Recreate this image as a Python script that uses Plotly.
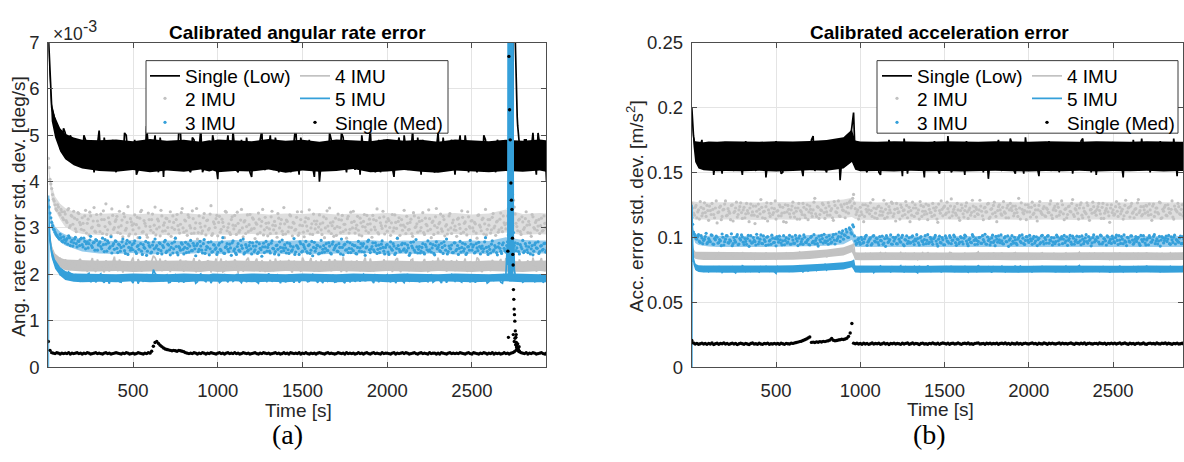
import numpy as np
import plotly.graph_objects as go

W, H = 1184, 462
STEP_LINE = 20   # s between samples of each line list (A at 0,20,..; B at 10,30,..)
STEP_DOT = 10    # s between samples of each dot list (A at 0,10,..; B at 5,15,..)

# ---------------- Left panel: angular rate error (units of 1e-5 deg/s) ----------------
L_LOW_A = [
    720, 560, 530, 510, 490, 505, 470, 485, 450, 480,
    440, 490, 430, 470, 445, 510, 425, 470, 440, 490,
    420, 475, 440, 500, 430, 465, 415, 480, 450, 520,
    430, 470, 445, 495, 410, 460, 440, 485, 425, 505,
    440, 470, 420, 490, 450, 515, 430, 465, 440, 480,
    405, 470, 445, 500, 430, 475, 420, 490, 450, 465,
    410, 485, 440, 510, 425, 470, 445, 495, 420, 460,
    435, 480, 450, 520, 415, 470, 440, 490, 430, 465,
    400, 480, 445, 505, 425, 470, 440, 495, 420, 475,
    450, 485, 415, 465, 440, 510, 430, 470, 420, 490,
    445, 475, 410, 480, 450, 500, 425, 465, 440, 495,
    415, 470, 445, 485, 420, 505, 440, 460, 430, 490,
    415, 470, 445, 500, 420, 480, 440, 475, 425, 490,
    430, 465, 420, 480, 445, 470, 425, 480, 620, 480,
    425, 490, 440, 505, 415, 480, 450, 400,
]
L_LOW_B = [
    620, 545, 520, 470, 515, 480, 500, 445, 490, 460,
    500, 455, 485, 420, 480, 450, 495, 430, 470, 445,
    480, 430, 505, 455, 440, 490, 425, 470, 435, 480,
    455, 500, 420, 470, 485, 430, 475, 445, 510, 440,
    465, 425, 495, 440, 470, 420, 485, 450, 500, 435,
    485, 430, 470, 455, 510, 425, 460, 440, 495, 420,
    470, 445, 490, 430, 465, 500, 425, 475, 440, 485,
    460, 420, 480, 445, 495, 430, 470, 455, 410, 485,
    445, 470, 425, 490, 455, 430, 505, 440, 470, 450,
    425, 470, 500, 435, 480, 450, 420, 490, 455, 440,
    480, 430, 465, 495, 425, 470, 445, 510, 430, 460,
    490, 440, 475, 425, 470, 450, 495, 430, 480, 445,
    460, 500, 430, 470, 445, 485, 420, 465, 500, 435,
    475, 440, 490, 430, 470, 455, 480, 950, 520, 460,
    490, 435, 470, 450, 505, 425, 480,
]
L_LOW_SPIKE_T = [2746, 2752, 2756, 2763, 2767, 2774]
L_LOW_SPIKE_V = [900, 860, 700, 580, 540, 500]

L_IMU2_A = [
    450, 405, 385, 362, 350, 338, 345, 328, 335, 318,
    330, 312, 342, 305, 325, 336, 298, 318, 331, 307,
    322, 295, 338, 310, 285, 326, 302, 344, 291, 315,
    305, 330, 288, 318, 352, 296, 312, 284, 327, 301,
    318, 290, 336, 305, 281, 324, 299, 346, 287, 313,
    296, 328, 307, 279, 321, 338, 292, 310, 285, 332,
    303, 318, 290, 345, 298, 315, 283, 326, 306, 294,
    320, 287, 335, 301, 312, 278, 329, 296, 308, 342,
    291, 315, 284, 323, 300, 337, 289, 311, 276, 326,
    302, 294, 331, 285, 317, 299, 348, 288, 309, 320,
    283, 325, 297, 312, 279, 334, 301, 290, 318, 306,
    327, 286, 310, 295, 340, 281, 316, 303, 292, 329,
    298, 319, 277, 308, 332, 290, 314, 285, 323, 301,
    311, 288, 336, 296, 305, 280, 321, 309, 293, 344,
    287, 314, 302, 326, 283, 310, 297, 335, 289, 318,
    305, 281, 322, 294, 339, 300, 286, 315, 308, 291,
    328, 296, 311, 279, 320, 304, 343, 288, 313, 299,
    284, 330, 301, 317, 292, 308, 278, 325, 297, 312,
    336, 289, 306, 295, 321, 283, 314, 302, 327, 290,
    309, 280, 318, 296, 341, 287, 311, 299, 324, 304,
    293, 316, 284, 329, 300, 312, 277, 322, 306, 295,
    338, 288, 310, 297, 319, 282, 326, 303, 291, 314,
    301, 333, 286, 308, 294, 320, 279, 315, 305, 342,
    290, 312, 298, 325, 283, 307, 296, 331, 288, 317,
    304, 282, 321, 299, 337, 291, 313, 285, 324, 300,
    316, 293, 309, 278, 328, 302, 318, 287, 340, 297,
    306, 289, 323, 300, 284, 315, 296, 332, 292, 311,
    298, 326, 360, 385, 372, 345, 310, 294, 319, 286,
    313, 301, 335, 290, 307, 282, 324, 298, 316, 304,
    288, 321, 295, 310, 299,
]
L_IMU2_B = [
    430, 395, 372, 358, 341, 350, 332, 340, 322, 335,
    316, 339, 301, 327, 308, 321, 292, 333, 312, 297,
    310, 326, 289, 319, 334, 300, 315, 293, 329, 306,
    292, 318, 337, 303, 286, 322, 309, 341, 297, 314,
    325, 302, 288, 317, 331, 295, 312, 283, 320, 306,
    309, 287, 323, 300, 335, 291, 316, 304, 280, 318,
    295, 330, 306, 285, 319, 302, 338, 293, 311, 321,
    301, 314, 282, 326, 297, 318, 305, 289, 333, 300,
    317, 294, 328, 305, 288, 320, 299, 342, 290, 310,
    289, 322, 304, 316, 296, 330, 284, 313, 301, 327,
    312, 291, 319, 303, 336, 294, 309, 286, 324, 298,
    305, 334, 291, 317, 300, 313, 288, 328, 307, 295,
    322, 299, 311, 287, 319, 304, 340, 296, 310, 283,
    298, 324, 306, 314, 289, 331, 300, 318, 286, 309,
    317, 292, 328, 301, 312, 295, 323, 284, 306, 335,
    291, 313, 304, 320, 287, 309, 330, 298, 315, 302,
    309, 286, 324, 300, 337, 293, 311, 305, 282, 321,
    303, 318, 290, 327, 308, 296, 320, 289, 334, 300,
    314, 299, 325, 285, 311, 303, 329, 294, 308, 319,
    296, 327, 302, 316, 290, 322, 305, 336, 287, 313,
    320, 301, 311, 293, 328, 299, 314, 284, 318, 306,
    302, 325, 296, 312, 288, 333, 301, 309, 322, 294,
    316, 290, 321, 305, 339, 297, 312, 286, 324, 301,
    309, 330, 293, 318, 304, 287, 326, 300, 311, 296,
    295, 319, 308, 288, 323, 310, 297, 335, 303, 315,
    300, 312, 289, 327, 306, 294, 321, 309, 285, 318,
    318, 296, 331, 304, 313, 291, 319, 300, 326, 307,
    310, 342, 375, 392, 360, 330, 303, 317, 292, 324,
    297, 320, 306, 314, 289, 329, 301, 312, 295, 318,
    305, 293, 326, 301, 314,
]

L_IMU3_A = [
    360, 332, 312, 298, 291, 284, 279, 286, 272, 281,
    268, 277, 283, 262, 274, 268, 280, 259, 271, 276,
    264, 278, 255, 270, 266, 282, 258, 269, 275, 252,
    267, 260, 278, 249, 265, 272, 256, 281, 262, 254,
    271, 247, 263, 258, 276, 251, 266, 243, 269, 257,
    253, 272, 245, 262, 279, 250, 264, 256, 241, 268,
    259, 248, 270, 276, 262, 254, 266, 244, 258, 273,
    250, 263, 242, 267, 255, 278, 247, 260, 252, 265,
    244, 269, 256, 248, 273, 251, 262, 240, 266, 254,
    261, 246, 275, 253, 258, 242, 270, 249, 263, 257,
    248, 267, 251, 279, 245, 260, 254, 265, 241, 272,
    255, 243, 266, 250, 262, 276, 247, 258, 252, 269,
    244, 261, 253, 270, 248, 256, 239, 267, 259, 250,
    264, 246, 272, 255, 249, 263, 242, 258, 274, 251,
    257, 268, 245, 261, 253, 277, 248, 260, 243, 266,
    250, 259, 271, 246, 264, 252, 240, 269, 256, 262,
    245, 273, 254, 248, 266, 251, 261, 244, 270, 257,
    263, 249, 258, 276, 242, 265, 253, 247, 268, 255,
    251, 262, 244, 271, 257, 249, 266, 241, 259, 274,
    247, 260, 253, 268, 245, 263, 256, 272, 250, 258,
    264, 243, 270, 252, 261, 246, 278, 254, 249, 267,
    255, 248, 263, 241, 269, 257, 252, 275, 246, 260,
    250, 266, 244, 259, 272, 253, 248, 264, 242, 270,
    258, 251, 267, 245, 262, 276, 249, 256, 263, 247,
    268, 254, 243, 271, 258, 250, 265, 246, 260, 273,
    252, 263, 248, 257, 269, 244, 261, 255, 279, 249,
    260, 246, 272, 253, 258, 242, 267, 250, 264, 256,
    248, 270, 295, 320, 305, 262, 251, 266, 244, 259,
    273, 250, 261, 247, 268, 255, 242, 264, 257, 270,
    249, 262, 254, 267, 251,
]
L_IMU3_B = [
    345, 322, 305, 296, 287, 281, 276, 279, 270, 275,
    273, 265, 279, 270, 261, 276, 266, 272, 262, 278,
    259, 271, 266, 257, 274, 262, 268, 252, 273, 263,
    270, 255, 264, 275, 250, 268, 259, 246, 266, 272,
    256, 265, 250, 270, 261, 245, 273, 258, 252, 264,
    267, 249, 260, 254, 266, 243, 258, 271, 250, 262,
    246, 263, 255, 258, 245, 268, 251, 262, 270, 247,
    265, 253, 258, 246, 270, 260, 242, 257, 268, 254,
    258, 247, 265, 261, 251, 267, 255, 262, 249, 271,
    252, 266, 245, 260, 269, 255, 248, 264, 254, 243,
    263, 254, 270, 246, 258, 266, 249, 257, 268, 251,
    246, 260, 252, 273, 256, 244, 264, 250, 262, 255,
    268, 249, 261, 245, 266, 253, 259, 247, 271, 258,
    250, 267, 256, 244, 262, 254, 270, 249, 257, 264,
    246, 253, 266, 250, 259, 243, 262, 256, 270, 248,
    264, 255, 249, 262, 245, 271, 258, 250, 263, 244,
    259, 247, 262, 256, 251, 268, 246, 265, 253, 261,
    250, 266, 244, 258, 263, 252, 270, 256, 247, 264,
    262, 245, 258, 250, 266, 261, 248, 257, 271, 253,
    255, 268, 249, 262, 254, 247, 265, 258, 244, 263,
    248, 259, 255, 266, 243, 256, 262, 249, 264, 252,
    266, 251, 257, 245, 261, 270, 248, 259, 254, 246,
    258, 247, 264, 253, 250, 266, 257, 245, 262, 255,
    263, 249, 258, 270, 252, 244, 261, 255, 247, 268,
    251, 262, 256, 248, 267, 255, 243, 259, 252, 265,
    259, 246, 266, 251, 260, 256, 249, 270, 258, 243,
    254, 265, 250, 262, 247, 259, 256, 245, 268, 251,
    262, 285, 310, 330, 290, 268, 257, 249, 264, 255,
    247, 266, 253, 259, 244, 262, 250, 268, 256, 245,
    261, 252, 266, 248, 257,
]

L_IMU4_A = [
    300, 255, 238, 228, 222, 232, 215, 226, 212, 230,
    208, 228, 215, 235, 205, 222, 212, 230, 206, 225,
    214, 232, 204, 222, 215, 236, 207, 224, 213, 230,
    216, 240, 228, 234, 212, 226, 205, 222, 214, 232,
    206, 224, 213, 235, 208, 226, 215, 230, 204, 222,
    212, 234, 207, 225, 215, 232, 203, 224, 214, 236,
    208, 226, 212, 230, 205, 222, 216, 234, 209, 225,
    213, 231, 204, 224, 215, 236, 208, 226, 212, 230,
    206, 222, 214, 233, 209, 225, 213, 237, 205, 224,
    215, 230, 207, 226, 212, 234, 206, 223, 214, 232,
    208, 227, 213, 235, 205, 224, 215, 231, 209, 226,
    212, 233, 206, 224, 214, 236, 208, 225, 213, 230,
    207, 226, 215, 234, 209, 223, 212, 232, 205, 225,
    214, 231, 208, 227, 212, 235, 210, 226, 215, 232,
    208, 225, 214, 236, 206, 224, 213, 230,
]
L_IMU4_B = [
    275, 245, 218, 236, 214, 228, 209, 224, 218, 233,
    220, 205, 226, 212, 232, 218, 204, 225, 215, 238,
    207, 222, 217, 211, 228, 213, 233, 206, 221, 216,
    228, 236, 218, 207, 230, 213, 227, 209, 224, 211,
    229, 212, 223, 205, 231, 216, 209, 226, 218, 234,
    221, 205, 228, 214, 210, 226, 217, 206, 231, 213,
    219, 234, 206, 224, 215, 231, 207, 221, 228, 212,
    223, 210, 229, 216, 205, 227, 214, 235, 206, 220,
    231, 211, 226, 208, 232, 217, 205, 224, 216, 229,
    210, 223, 214, 236, 206, 222, 215, 228, 208, 225,
    218, 205, 231, 211, 226, 214, 207, 233, 220, 210,
    225, 216, 208, 229, 213, 220, 232, 206, 224, 217,
    229, 210, 223, 206, 228, 215, 236, 209, 221, 214,
    207, 224, 217, 233, 210, 226, 212, 229, 208, 223,
    216, 230, 209, 222, 214, 235, 207,
]

L_IMU5_A = [
    0, 245, 222, 210, 204, 198, 205, 192, 200, 188,
    196, 185, 202, 190, 183, 198, 186, 194, 180, 197,
    188, 184, 199, 187, 193, 181, 196, 189, 185, 200,
    190, 210, 198, 192, 186, 199, 183, 195, 188, 193,
    182, 198, 189, 195, 184, 201, 187, 192, 181, 197,
    190, 185, 199, 183, 194, 188, 200, 182, 195, 189,
    186, 198, 181, 193, 190, 202, 184, 196, 188, 192,
    183, 199, 189, 194, 182, 197, 190, 185, 200, 187,
    193, 181, 196, 188, 199, 184, 192, 186, 198, 183,
    195, 189, 184, 200, 187, 193, 181, 197, 190, 186,
    199, 183, 194, 188, 196, 182, 201, 189, 185, 197,
    188, 192, 184, 199, 186, 195, 181, 194, 190, 200,
    185, 196, 183, 193, 189, 198, 182, 195, 187, 192,
    184, 199, 188, 194, 181, 197, 186, 193, 189, 196,
    183, 200, 187, 192, 185, 198, 182, 195,
]
L_IMU5_B = [
    275, 232, 215, 200, 207, 194, 202, 187, 195, 184,
    191, 199, 183, 194, 188, 201, 182, 190, 196, 186,
    197, 183, 191, 199, 186, 195, 180, 192, 188, 196,
    185, 202, 191, 187, 197, 182, 193, 199, 184, 190,
    196, 185, 192, 181, 198, 190, 184, 196, 188, 193,
    182, 197, 188, 193, 185, 199, 186, 191, 183, 198,
    191, 184, 197, 187, 183, 194, 189, 199, 181, 195,
    189, 194, 182, 198, 187, 191, 184, 197, 190, 182,
    187, 198, 185, 191, 183, 196, 189, 181, 194, 190,
    184, 193, 197, 186, 192, 188, 199, 183, 191, 196,
    188, 195, 181, 197, 186, 192, 184, 198, 190, 183,
    194, 186, 198, 183, 191, 187, 196, 182, 197, 189,
    192, 185, 199, 188, 183, 194, 190, 186, 198, 181,
    191, 187, 196, 183, 199, 900, 185, 210, 195, 188,
    186, 193, 199, 184, 190, 197, 187,
]
L_IMU5_EXTRA_T = [1, 5,
                  2708, 2712, 2714, 2716, 2718, 2722, 2724, 2726, 2728,
                  2732, 2734, 2736, 2738, 2742, 2744, 2746, 2748]
L_IMU5_EXTRA_V = [370, 310,
                  260, 220, 900, 195, 900, 900, 185, 900, 210,
                  900, 200, 900, 190, 900, 230, 900, 260]

L_MED = [
    55, 36, 31, 30, 29, 31, 30, 28, 30, 29,
    30, 29, 31, 28, 30, 29, 30, 31, 29, 30,
    28, 30, 29, 31, 30, 28, 29, 30, 31, 29,
    30, 29, 28, 30, 31, 29, 30, 28, 29, 30,
    31, 30, 29, 28, 30, 29, 31, 30, 28, 29,
    30, 28, 29, 31, 30, 29, 28, 30, 29, 31,
    30, 34, 45, 53, 55, 51, 47, 44, 41, 39,
    38, 37, 36, 35, 36, 35, 34, 36, 35, 34,
    33, 31, 30, 29, 30, 29, 31, 30, 28, 30,
    29, 31, 30, 28, 30, 29, 31, 30, 29, 28,
    30, 31, 29, 30, 28, 30, 31, 29, 30, 29,
    31, 29, 30, 28, 29, 31, 30, 29, 30, 28,
    29, 30, 31, 29, 28, 30, 29, 31, 30, 29,
    30, 28, 29, 30, 31, 29, 30, 28, 29, 31,
    29, 30, 28, 31, 30, 29, 30, 29, 31, 28,
    30, 29, 31, 29, 28, 30, 29, 30, 28, 30,
    31, 30, 29, 28, 30, 31, 29, 30, 29, 28,
    29, 31, 30, 29, 30, 28, 31, 29, 30, 29,
    30, 28, 29, 31, 29, 30, 28, 30, 31, 29,
    28, 30, 31, 29, 30, 29, 28, 31, 29, 30,
    30, 29, 28, 30, 31, 28, 30, 29, 30, 31,
    29, 31, 30, 28, 29, 30, 31, 29, 28, 30,
    31, 29, 30, 29, 28, 31, 29, 30, 30, 28,
    30, 28, 31, 30, 29, 28, 30, 31, 29, 30,
    29, 30, 29, 31, 30, 29, 28, 30, 31, 29,
    28, 31, 30, 29, 28, 30, 29, 31, 30, 28,
    30, 29, 31, 28, 30, 29, 30, 28, 29, 31,
    29, 30, 28, 30, 31, 33, 36, 40, 34, 31,
    30, 29, 31, 28, 30, 29, 31, 30, 28, 29,
    30, 31, 29, 28, 30,
]
L_MED_EXTRA_T = [2712, 2715, 2718, 2722, 2726, 2730, 2733, 2736, 2739, 2741,
                 2743, 2744, 2745, 2747, 2749, 2750, 2751, 2753, 2754, 2756,
                 2758, 2759, 2761, 2762, 2764, 2765, 2768, 2770, 2772, 2774,
                 2776, 2778, 2780]
L_MED_EXTRA_V = [250, 64, 670, 555, 490, 397, 360, 340, 278, 243,
                 220, 70, 167, 146, 125, 55, 113, 99, 62, 78,
                 48, 64, 70, 53, 42, 45, 40, 50, 36, 38,
                 34, 44, 33]

# ---------------- Right panel: acceleration error (units of 1e-4 m/s^2) ----------------
R_LOW_A = [
    2000, 1690, 1560, 1750, 1620, 1520, 1710, 1580, 1660, 1490,
    1720, 1600, 1540, 1690, 1630, 1480, 1740, 1570, 1650, 1510,
    1700, 1600, 1460, 1680, 1550, 1740, 1620, 1500, 1660, 1580,
    1720, 1520, 1640, 1470, 1690, 1590, 1780, 1540, 1650, 1610,
    1500, 1700, 1580, 1660, 1440, 1720, 1610, 1750, 1960, 1680,
    1560, 1690, 1500, 1640, 1590, 1730, 1480, 1660, 1570, 1700,
    1520, 1650, 1610, 1760, 1490, 1680, 1550, 1710, 1600, 1460,
    1690, 1580, 1740, 1520, 1640, 1600, 1780, 1500, 1670, 1560,
    1710, 1480, 1650, 1590, 1730, 1540, 1680, 1620, 1450, 1700,
    1570, 1750, 1510, 1660, 1600, 1720, 1490, 1640, 1580, 1770,
    1530, 1680, 1610, 1470, 1700, 1560, 1740, 1590, 1650, 1500,
    1720, 1580, 1640, 1490, 1690, 1610, 1760, 1540, 1660, 1590,
    1480, 1710, 1570, 1650, 1520, 1730, 1600, 1680, 1460, 1700,
    1590, 1750, 1530, 1640, 1610, 1720, 1500, 1670, 1580, 1740,
    1540, 1690, 1600, 1760, 1470, 1650, 1580, 1710,
]
R_LOW_B = [
    1780, 1610, 1700, 1540, 1650, 1590, 1480, 1690, 1560, 1730,
    1570, 1680, 1510, 1720, 1580, 1660, 1530, 1700, 1600, 1640,
    1550, 1730, 1590, 1520, 1670, 1600, 1490, 1710, 1560, 1650,
    1600, 1700, 1540, 1660, 1580, 1750, 1510, 1680, 1590, 1530,
    1690, 1560, 1640, 1750, 1600, 1680, 1790, 1850, 1600, 1560,
    1640, 1530, 1720, 1580, 1660, 1500, 1690, 1610, 1750, 1540,
    1680, 1570, 1470, 1650, 1600, 1730, 1520, 1640, 1580, 1700,
    1550, 1660, 1600, 1490, 1720, 1570, 1640, 1530, 1700, 1610,
    1590, 1740, 1520, 1660, 1570, 1690, 1500, 1650, 1600, 1560,
    1700, 1540, 1630, 1580, 1760, 1520, 1670, 1600, 1490, 1650,
    1610, 1720, 1550, 1650, 1580, 1690, 1510, 1640, 1720, 1570,
    1650, 1530, 1700, 1600, 1560, 1740, 1580, 1670, 1500, 1690,
    1620, 1560, 1680, 1590, 1720, 1540, 1650, 1570, 1700, 1610,
    1530, 1660, 1600, 1760, 1550, 1640, 1590, 1700, 1520, 1650,
    1610, 1720, 1540, 1630, 1690, 1560, 1680,
]

R_IMU2_A = [
    1260, 1185, 1230, 1150, 1210, 1275, 1165, 1220, 1190, 1245,
    1130, 1205, 1260, 1175, 1225, 1110, 1195, 1240, 1160, 1215,
    1280, 1170, 1200, 1135, 1250, 1190, 1225, 1155, 1210, 1265,
    1145, 1230, 1180, 1205, 1120, 1255, 1195, 1170, 1240, 1160,
    1215, 1290, 1150, 1200, 1235, 1125, 1185, 1260, 1175, 1220,
    1140, 1205, 1250, 1165, 1230, 1190, 1115, 1245, 1180, 1210,
    1270, 1155, 1200, 1225, 1140, 1195, 1260, 1170, 1215, 1135,
    1240, 1185, 1210, 1300, 1160, 1230, 1175, 1205, 1250, 1145,
    1195, 1265, 1170, 1220, 1130, 1245, 1190, 1280, 1160, 1235,
    1205, 1150, 1260, 1185, 1280, 1240, 1330, 1220, 1195, 1140,
    1230, 1175, 1120, 1250, 1195, 1210, 1265, 1160, 1225, 1185,
    1145, 1240, 1200, 1170, 1285, 1215, 1155, 1235, 1190, 1260,
    1180, 1125, 1220, 1195, 1250, 1165, 1210, 1275, 1150, 1230,
    1205, 1270, 1160, 1225, 1185, 1140, 1245, 1200, 1175, 1255,
    1135, 1215, 1190, 1260, 1170, 1230, 1115, 1205, 1280, 1165,
    1240, 1185, 1220, 1150, 1295, 1195, 1235, 1170, 1210, 1130,
    1250, 1180, 1205, 1265, 1145, 1225, 1190, 1240, 1160, 1215,
    1175, 1285, 1200, 1135, 1230, 1195, 1260, 1155, 1220, 1245,
    1190, 1120, 1235, 1210, 1170, 1275, 1185, 1225, 1150, 1260,
    1205, 1165, 1240, 1190, 1300, 1140, 1215, 1180, 1250, 1195,
    1230, 1155, 1270, 1185, 1210, 1125, 1245, 1200, 1175, 1235,
    1160, 1215, 1190, 1280, 1145, 1225, 1205, 1255, 1170, 1195,
    1250, 1135, 1220, 1175, 1240, 1195, 1290, 1160, 1210, 1185,
    1225, 1265, 1150, 1200, 1180, 1245, 1130, 1215, 1270, 1190,
    1170, 1235, 1205, 1145, 1260, 1185, 1220, 1195, 1115, 1250,
    1210, 1180, 1275, 1160, 1230, 1200, 1140, 1245, 1190, 1225,
    1155, 1260, 1195, 1215, 1175, 1290, 1205, 1165, 1235, 1185,
    1240, 1170, 1210, 1130, 1255, 1195, 1225, 1180, 1265, 1150,
    1200, 1245, 1165, 1220, 1185, 1280, 1140, 1215, 1195, 1235,
    1175, 1250, 1190, 1225, 1160,
]
R_IMU2_B = [
    1225, 1170, 1245, 1195, 1140, 1230, 1185, 1265, 1160, 1205,
    1240, 1175, 1215, 1150, 1280, 1190, 1230, 1135, 1210, 1255,
    1165, 1220, 1185, 1245, 1125, 1200, 1270, 1175, 1235, 1190,
    1210, 1150, 1260, 1185, 1225, 1170, 1240, 1105, 1200, 1255,
    1180, 1230, 1195, 1145, 1265, 1210, 1160, 1225, 1190, 1280,
    1200, 1165, 1235, 1185, 1120, 1250, 1195, 1215, 1155, 1240,
    1185, 1225, 1140, 1260, 1205, 1175, 1230, 1150, 1250, 1195,
    1215, 1160, 1270, 1180, 1235, 1145, 1210, 1260, 1190, 1225,
    1170, 1240, 1205, 1150, 1275, 1195, 1225, 1165, 1250, 1210,
    1255, 1195, 1230, 1270, 1225, 1300, 1260, 1175, 1210, 1165,
    1195, 1250, 1160, 1215, 1240, 1180, 1205, 1290, 1150, 1220,
    1235, 1170, 1225, 1195, 1145, 1255, 1185, 1210, 1270, 1160,
    1215, 1260, 1190, 1140, 1230, 1205, 1175, 1245, 1195, 1120,
    1170, 1225, 1250, 1185, 1210, 1275, 1160, 1235, 1200, 1180,
    1245, 1190, 1160, 1225, 1205, 1140, 1255, 1185, 1215, 1230,
    1175, 1270, 1195, 1240, 1165, 1215, 1185, 1260, 1150, 1205,
    1225, 1155, 1240, 1195, 1210, 1170, 1285, 1200, 1230, 1180,
    1210, 1240, 1165, 1225, 1195, 1255, 1145, 1215, 1180, 1270,
    1160, 1205, 1250, 1180, 1230, 1195, 1150, 1245, 1210, 1225,
    1240, 1185, 1215, 1160, 1225, 1265, 1190, 1205, 1135, 1250,
    1195, 1230, 1175, 1245, 1155, 1210, 1275, 1185, 1220, 1165,
    1225, 1190, 1255, 1170, 1210, 1240, 1160, 1230, 1195, 1280,
    1180, 1215, 1150, 1235, 1200, 1260, 1175, 1220, 1245, 1140,
    1250, 1170, 1225, 1190, 1265, 1155, 1210, 1185, 1235, 1200,
    1215, 1260, 1180, 1230, 1145, 1205, 1250, 1165, 1225, 1190,
    1170, 1235, 1200, 1255, 1180, 1215, 1165, 1285, 1195, 1230,
    1240, 1185, 1150, 1220, 1265, 1190, 1235, 1175, 1210, 1245,
    1195, 1255, 1175, 1240, 1160, 1225, 1190, 1270, 1145, 1215,
    1230, 1170, 1250, 1190, 1215, 1155, 1240, 1205, 1260, 1180,
    1215, 1165, 1235, 1195, 1250,
]

R_IMU3_A = [
    1150, 1040, 1010, 985, 1020, 960, 995, 975, 1005, 950,
    990, 965, 1015, 945, 980, 1000, 958, 972, 1025, 940,
    985, 1010, 955, 970, 935, 998, 962, 1020, 948, 978,
    1002, 944, 968, 990, 930, 1012, 958, 975, 940, 995,
    965, 1018, 950, 982, 938, 1005, 970, 945, 992, 960,
    934, 985, 1008, 955, 972, 942, 996, 962, 1015, 948,
    978, 952, 990, 936, 1010, 966, 945, 1000, 958, 984,
    940, 1006, 968, 950, 992, 932, 980, 1014, 955, 972,
    1000, 946, 985, 962, 1020, 948, 975, 1005, 968, 1030,
    985, 1015, 1040, 998, 1060, 1025, 1080, 970, 955, 990,
    945, 982, 960, 1005, 938, 972, 995, 950, 1012, 964,
    988, 942, 975, 1008, 955, 930, 992, 968, 1018, 946,
    970, 1000, 948, 985, 962, 1015, 935, 978, 952, 996,
    958, 1010, 944, 972, 990, 940, 1005, 965, 982, 950,
    1020, 960, 985, 945, 998, 970, 932, 1008, 955, 980,
    942, 992, 966, 1012, 950, 978, 1002, 938, 984, 962,
    996, 948, 1016, 970, 935, 990, 958, 1006, 944, 975,
    968, 1000, 952, 982, 1022, 946, 974, 940, 995, 960,
    935, 985, 1010, 958, 972, 948, 1004, 965, 930, 990,
    1012, 955, 980, 942, 998, 968, 1018, 950, 975, 1002,
    960, 988, 945, 1006, 970, 936, 992, 958, 1015, 948,
    982, 1008, 954, 974, 940, 996, 966, 1002, 944, 986,
    950, 1014, 972, 938, 990, 962, 1008, 946, 980, 958,
    1004, 942, 985, 968, 1020, 955, 976, 934, 998, 964,
    975, 996, 948, 1010, 960, 986, 940, 1002, 970, 952,
    990, 958, 1016, 944, 978, 1005, 950, 972, 936, 994,
    962, 1010, 946, 984, 968, 1000, 938, 982, 1012, 955,
    978, 942, 996, 964, 1006, 950, 988, 970, 932, 1004,
    956, 992, 968, 1014, 945, 980, 1000, 948, 975, 962,
    1008, 952, 986, 940, 995,
]
R_IMU3_B = [
    1100, 1025, 990, 1005, 968, 1012, 950, 985, 1030, 962,
    975, 1018, 948, 990, 1008, 955, 982, 935, 1000, 966,
    1012, 958, 980, 1026, 950, 975, 1004, 942, 990, 1018,
    962, 990, 945, 1014, 972, 955, 998, 966, 1022, 948,
    985, 952, 1010, 968, 1000, 942, 978, 1016, 958, 990,
    1004, 962, 980, 940, 1012, 975, 955, 988, 946, 1002,
    955, 1015, 970, 992, 948, 985, 1018, 960, 975, 944,
    998, 958, 1020, 975, 950, 1008, 965, 990, 1022, 960,
    972, 1012, 955, 1000, 978, 1025, 990, 1040, 1002, 1050,
    1018, 1060, 1000, 1072, 1035, 1095, 1010, 945, 980, 962,
    1000, 955, 988, 1015, 962, 985, 940, 1008, 970, 992,
    958, 1004, 972, 945, 990, 1012, 960, 982, 948, 1000,
    988, 950, 1016, 966, 998, 944, 982, 1010, 968, 955,
    1002, 968, 985, 1020, 956, 994, 972, 946, 1012, 975,
    952, 1000, 966, 990, 1014, 948, 985, 960, 998, 942,
    1010, 970, 955, 998, 976, 1016, 958, 985, 950, 1004,
    965, 992, 1008, 950, 982, 962, 1020, 975, 990, 946,
    998, 955, 1012, 966, 948, 1002, 985, 960, 1016, 972,
    1006, 962, 980, 1018, 950, 994, 966, 1010, 978, 945,
    968, 1000, 952, 985, 1012, 958, 992, 944, 1004, 975,
    1015, 972, 990, 955, 1002, 982, 948, 1010, 966, 996,
    955, 1012, 978, 998, 962, 950, 1016, 972, 990, 1004,
    986, 958, 1002, 976, 1014, 945, 992, 968, 1008, 960,
    972, 1010, 950, 994, 966, 1004, 988, 956, 1018, 982,
    1002, 962, 1016, 948, 990, 972, 1010, 958, 985, 1008,
    966, 998, 975, 1012, 952, 986, 1018, 962, 1000, 970,
    1010, 978, 958, 1004, 990, 952, 1014, 968, 985, 940,
    992, 1012, 962, 980, 1020, 970, 948, 1006, 978, 996,
    975, 1008, 986, 950, 1002, 960, 1016, 982, 964, 994,
    950, 1004, 972, 1016, 962,
]

R_IMU4_A = [
    920, 880, 860, 845, 870, 835, 862, 848, 880, 832,
    866, 842, 875, 828, 858, 885, 838, 864, 846, 872,
    834, 860, 882, 840, 855, 826, 870, 848, 878, 836,
    862, 844, 885, 838, 870, 856, 882, 850, 876, 888,
    845, 880, 862, 895, 870, 902, 885, 918, 950, 850,
    838, 866, 845, 874, 830, 858, 880, 842, 864, 835,
    870, 848, 882, 836, 860, 845, 876, 828, 866, 852,
    884, 840, 858, 872, 832, 868, 846, 880, 838, 862,
    850, 876, 834, 864, 845, 886, 840, 858, 872, 830,
    866, 844, 878, 836, 860, 852, 882, 838, 868, 846,
    874, 832, 862, 848, 880, 840, 866, 854, 836, 870,
    846, 878, 838, 864, 850, 884, 834, 860, 872, 842,
    868, 840, 876, 852, 830, 864, 846, 880, 838, 862,
    850, 874, 836, 866, 844, 882, 840, 860, 872, 834,
    864, 848, 878, 838, 862, 852, 884, 842,
]
R_IMU4_B = [
    900, 855, 870, 840, 858, 876, 842, 866, 850, 872,
    840, 868, 852, 880, 836, 862, 848, 874, 832, 860,
    870, 846, 858, 836, 876, 852, 840, 866, 858, 880,
    848, 872, 856, 866, 846, 878, 862, 884, 866, 892,
    872, 866, 884, 876, 892, 888, 904, 925, 845, 862,
    852, 874, 836, 862, 850, 870, 844, 878, 852, 866,
    842, 864, 856, 874, 846, 868, 838, 860, 880, 844,
    866, 852, 874, 844, 862, 850, 882, 846, 868, 838,
    862, 844, 870, 850, 876, 836, 864, 848, 858, 880,
    842, 872, 856, 862, 844, 876, 850, 866, 840, 870,
    856, 864, 842, 874, 852, 860, 838, 878, 864, 848,
    868, 850, 862, 844, 872, 856, 866, 848, 852, 876,
    846, 870, 852, 864, 842, 874, 860, 850, 868, 844,
    862, 848, 874, 852, 866, 842, 870, 854, 846, 878,
    850, 866, 842, 872, 856, 864, 846,
]

R_IMU5_A = [
    0, 790, 765, 742, 770, 735, 758, 748, 776, 730,
    762, 744, 772, 726, 754, 780, 738, 760, 745, 768,
    732, 757, 779, 740, 752, 722, 766, 746, 774, 734,
    760, 742, 778, 730, 764, 750, 772, 744, 768, 780,
    748, 775, 758, 786, 766, 792, 776, 798, 820, 752,
    736, 764, 745, 772, 728, 756, 778, 740, 762, 734,
    768, 746, 780, 734, 758, 744, 774, 726, 764, 750,
    782, 738, 756, 770, 730, 766, 744, 778, 736, 760,
    748, 774, 732, 762, 743, 784, 738, 756, 770, 728,
    764, 742, 776, 734, 758, 750, 780, 736, 766, 744,
    772, 730, 760, 746, 778, 738, 764, 752, 734, 768,
    744, 776, 736, 762, 748, 782, 732, 758, 770, 740,
    766, 738, 774, 750, 728, 762, 744, 778, 736, 760,
    748, 772, 734, 764, 742, 780, 738, 758, 770, 732,
    762, 746, 776, 736, 760, 750, 782, 740,
]
R_IMU5_B = [
    820, 752, 770, 738, 762, 744, 770, 734, 758, 748,
    742, 768, 736, 760, 748, 772, 752, 738, 766, 740,
    770, 744, 756, 762, 734, 774, 750, 742, 758, 766,
    746, 768, 752, 760, 740, 776, 754, 766, 772, 790,
    764, 772, 780, 770, 788, 784, 800, 812, 745, 760,
    752, 740, 770, 756, 746, 768, 752, 760, 744, 772,
    748, 766, 740, 770, 754, 762, 736, 778, 746, 758,
    760, 752, 744, 766, 748, 772, 756, 740, 768, 750,
    766, 744, 758, 770, 736, 760, 762, 746, 752, 772,
    754, 762, 742, 768, 750, 764, 738, 776, 752, 744,
    746, 770, 752, 760, 744, 766, 756, 738, 770, 754,
    762, 748, 766, 740, 772, 754, 758, 744, 764, 750,
    752, 768, 744, 762, 756, 740, 770, 752, 760, 746,
    760, 746, 772, 752, 758, 744, 766, 748, 760, 754,
    748, 768, 754, 762, 742, 770, 756,
]
R_IMU5_EXTRA_T = [1, 5]
R_IMU5_EXTRA_V = [1250, 950]

R_MED = [
    205, 185, 178, 182, 176, 180, 184, 177, 181, 175,
    182, 178, 186, 174, 180, 183, 176, 181, 179, 185,
    177, 182, 175, 180, 184, 178, 181, 173, 179, 183,
    180, 176, 182, 178, 174, 181, 185, 177, 180, 176,
    183, 178, 175, 181, 179, 184, 176, 180, 177, 182,
    178, 181, 176, 183, 179, 175, 182, 180, 177, 184,
    182, 186, 189, 192, 196, 199, 204, 210, 216, 224,
    232, 190, 192, 189, 194, 191, 196, 193, 198, 196,
    200, 203, 208, 220, 206, 202, 205, 208, 210, 214,
    212, 216, 222, 236, 262, 335, 184, 179, 183, 177,
    181, 176, 184, 178, 182, 175, 180, 185, 177, 181,
    179, 183, 176, 180, 186, 178, 182, 174, 181, 179,
    184, 177, 181, 179, 175, 183, 178, 182, 186, 176,
    180, 185, 177, 182, 179, 174, 181, 184, 178, 180,
    176, 182, 179, 186, 180, 177, 183, 175, 181, 185,
    182, 178, 184, 176, 181, 183, 177, 180, 186, 179,
    175, 181, 183, 179, 185, 178, 180, 176, 182, 184,
    186, 177, 180, 182, 176, 184, 179, 183, 178, 181,
    179, 184, 176, 181, 183, 180, 185, 177, 182, 175,
    183, 180, 178, 185, 177, 182, 176, 181, 184, 179,
    177, 182, 186, 179, 181, 175, 183, 180, 178, 185,
    181, 176, 183, 180, 184, 179, 177, 182, 186, 178,
    184, 179, 181, 177, 182, 185, 180, 176, 183, 181,
    178, 183, 180, 186, 176, 181, 184, 179, 177, 182,
    182, 177, 185, 181, 179, 183, 176, 182, 180, 184,
    180, 184, 178, 182, 186, 177, 181, 185, 179, 176,
    183, 179, 181, 176, 182, 184, 178, 180, 185, 177,
    176, 182, 184, 179, 181, 178, 186, 180, 177, 183,
    181, 185, 177, 183, 180, 176, 182, 179, 184, 178,
    180, 183, 177, 182, 179,
]

# ---- dense core of each noisy band (lower / upper edge) ----
BAND_T = [0, 10, 20, 40, 70, 100, 150, 200,
          300, 400, 500, 600, 700, 800, 900,
          950, 970,
          1000, 1100, 1200, 1300, 1400, 1500, 1600, 1700, 1800, 1900,
          2000, 2100, 2200, 2300, 2400, 2500, 2600, 2700, 2800, 2900,
          2940]

L_LOW_LO = [690, 590, 530, 495, 465, 448, 435, 428, 423, 421, 425, 420, 424, 421, 426, 422, 424,
            420, 423, 422, 426, 419, 424, 421, 423, 427, 420, 422, 425, 421, 419, 424, 422, 420, 423, 421, 424, 421]
L_LOW_HI = [712, 630, 570, 540, 515, 503, 495, 490, 489, 491, 487, 492, 488, 490, 486, 489, 488,
            491, 489, 487, 492, 488, 490, 486, 491, 489, 487, 492, 488, 490, 486, 491, 489, 487, 490, 488, 491, 489]
L_IMU2_LO = [420, 385, 362, 338, 318, 302, 292, 287, 285, 287, 284, 286, 285, 287, 284, 286, 285,
             286, 285, 287, 284, 286, 285, 287, 284, 286, 285, 287, 284, 286, 285, 287, 284, 286, 290, 285, 287, 286]
L_IMU2_HI = [448, 412, 392, 368, 352, 343, 335, 331, 330, 332, 329, 331, 330, 332, 329, 331, 330,
             331, 330, 332, 329, 331, 330, 332, 329, 331, 330, 332, 329, 331, 330, 332, 329, 331, 340, 330, 332, 331]
L_IMU3_LO = [342, 318, 298, 282, 270, 262, 255, 249, 245, 244, 246, 243, 245, 244, 246, 243, 245,
             244, 246, 243, 245, 244, 246, 243, 245, 244, 246, 243, 245, 244, 246, 243, 245, 244, 248, 246, 245, 245]
L_IMU3_HI = [362, 338, 320, 303, 292, 286, 280, 276, 273, 272, 274, 271, 273, 272, 274, 271, 273,
             272, 274, 271, 273, 272, 274, 271, 273, 272, 274, 271, 273, 272, 274, 271, 273, 272, 280, 274, 273, 273]
L_IMU4_LO = [288, 262, 242, 225, 215, 209, 207, 206, 206, 207, 205, 206, 207, 206, 205, 207, 206,
             205, 207, 206, 205, 207, 206, 205, 207, 206, 205, 207, 206, 205, 207, 206, 205, 207, 206, 205, 207, 206]
L_IMU4_HI = [302, 282, 262, 245, 236, 232, 230, 230, 229, 230, 228, 230, 229, 230, 228, 230, 229,
             228, 230, 229, 228, 230, 229, 228, 230, 229, 228, 230, 229, 228, 230, 229, 228, 230, 229, 228, 230, 229]
L_IMU5_LO = [0, 262, 235, 212, 197, 188, 184, 183, 184, 183, 185, 183, 184, 183, 185, 184, 183,
             184, 185, 183, 184, 183, 185, 184, 183, 184, 185, 183, 184, 183, 185, 184, 183, 184, 185, 183, 184, 183]
L_IMU5_HI = [0, 288, 256, 232, 216, 207, 202, 201, 201, 200, 202, 201, 200, 202, 201, 200, 202,
             201, 200, 202, 201, 200, 202, 201, 200, 202, 201, 200, 202, 201, 200, 202, 201, 200, 202, 201, 200, 201]

R_LOW_LO = [1950, 1700, 1580, 1530, 1515, 1512, 1508, 1510, 1508, 1512, 1506, 1510, 1515, 1512, 1530, 1580, 1520,
            1508, 1510, 1506, 1512, 1508, 1511, 1506, 1510, 1512, 1508, 1506, 1511, 1508, 1512, 1506, 1510, 1508, 1512, 1506, 1510, 1508]
R_LOW_HI = [2000, 1790, 1740, 1735, 1732, 1738, 1735, 1740, 1738, 1735, 1740, 1738, 1742, 1748, 1770, 1830, 1745,
            1738, 1735, 1740, 1738, 1735, 1740, 1738, 1735, 1740, 1738, 1735, 1740, 1738, 1735, 1740, 1738, 1735, 1740, 1738, 1735, 1738]
R_IMU2_LO = [1150, 1140, 1135, 1135, 1137, 1133, 1135, 1137, 1135, 1133, 1137, 1135, 1140, 1143, 1148, 1155, 1140,
             1135, 1133, 1137, 1135, 1133, 1137, 1135, 1133, 1137, 1135, 1133, 1137, 1135, 1133, 1137, 1135, 1133, 1137, 1135, 1133, 1135]
R_IMU2_HI = [1280, 1275, 1272, 1270, 1272, 1268, 1270, 1272, 1270, 1268, 1272, 1270, 1275, 1280, 1290, 1305, 1275,
             1270, 1268, 1272, 1270, 1268, 1272, 1270, 1268, 1272, 1270, 1268, 1272, 1270, 1268, 1272, 1270, 1268, 1272, 1270, 1268, 1270]
R_IMU3_LO = [1040, 985, 955, 940, 932, 928, 925, 926, 925, 924, 926, 925, 930, 935, 945, 980, 925,
             924, 926, 925, 924, 926, 925, 924, 926, 925, 924, 926, 925, 924, 926, 925, 924, 926, 925, 924, 926, 925]
R_IMU3_HI = [1130, 1055, 1030, 1016, 1012, 1010, 1009, 1010, 1009, 1008, 1010, 1009, 1016, 1024, 1040, 1075, 1009,
             1008, 1010, 1009, 1008, 1010, 1009, 1008, 1010, 1009, 1008, 1010, 1009, 1008, 1010, 1009, 1008, 1010, 1009, 1008, 1010, 1009]
R_IMU4_LO = [880, 850, 835, 828, 825, 823, 825, 824, 825, 823, 825, 826, 833, 845, 860, 885, 825,
             823, 825, 824, 823, 825, 824, 823, 825, 824, 823, 825, 824, 823, 825, 824, 823, 825, 824, 823, 825, 824]
R_IMU4_HI = [920, 895, 888, 885, 883, 885, 884, 885, 883, 885, 884, 887, 895, 905, 922, 945, 885,
             883, 885, 884, 883, 885, 884, 883, 885, 884, 883, 885, 884, 883, 885, 884, 883, 885, 884, 883, 885, 884]
R_IMU5_LO = [0, 790, 748, 732, 729, 727, 728, 727, 729, 727, 728, 729, 735, 742, 752, 768, 729,
             727, 729, 728, 727, 729, 728, 727, 729, 728, 727, 729, 728, 727, 729, 728, 727, 729, 728, 727, 729, 728]
R_IMU5_HI = [0, 850, 795, 784, 782, 781, 782, 781, 782, 781, 782, 784, 790, 797, 808, 818, 782,
             781, 782, 781, 782, 781, 782, 781, 782, 781, 782, 781, 782, 781, 782, 781, 782, 781, 782, 781, 782, 781]

NAMES = ["Single (Low)", "2 IMU", "3 IMU", "4 IMU", "5 IMU", "Single (Med)"]
LEFT_YTICKS = [0, 1, 2, 3, 4, 5, 6, 7]
RIGHT_YTICKS = [0, 0.05, 0.1, 0.15, 0.2, 0.25]
RIGHT_YTICKTEXT = ["0", "0.05", "0.1", "0.15", "0.2", "0.25"]
XTICKS = [500, 1000, 1500, 2000, 2500]

BLACK, GRAY, BLUE = "#000000", "#C2C2C2", "#35A0DA"
GRAY_CLOUD, BLUE_CLOUD = "#DEDEDE", "#95CBEC"
FONT = "Liberation Sans"


def series(a, step, scale, b=(), extra_t=(), extra_v=()):
    """Merge list a (t = 0, step, ...), list b (t = step/2, 3*step/2, ...) and extra points."""
    t = [i * step for i in range(len(a))] + [step / 2 + i * step for i in range(len(b))] + list(extra_t)
    v = list(a) + list(b) + list(extra_v)
    t = np.array(t, dtype=float)
    v = np.array(v, dtype=float)
    order = np.argsort(t, kind="stable")
    return t[order], v[order] / scale


def band(lo, hi, scale):
    x = list(BAND_T) + list(BAND_T)[::-1]
    y = [v / scale for v in lo] + [v / scale for v in hi][::-1]
    return x, y


panels = [
    dict(xa="x", ya="y", data=[
        series(L_LOW_A, STEP_LINE, 100.0, L_LOW_B, L_LOW_SPIKE_T, L_LOW_SPIKE_V),
        series(L_IMU2_A, STEP_DOT, 100.0, L_IMU2_B),
        series(L_IMU3_A, STEP_DOT, 100.0, L_IMU3_B),
        series(L_IMU4_A, STEP_LINE, 100.0, L_IMU4_B),
        series(L_IMU5_A, STEP_LINE, 100.0, L_IMU5_B, L_IMU5_EXTRA_T, L_IMU5_EXTRA_V),
        series(L_MED, STEP_DOT, 100.0, (), L_MED_EXTRA_T, L_MED_EXTRA_V),
    ], bands=[
        band(L_LOW_LO, L_LOW_HI, 100.0), band(L_IMU2_LO, L_IMU2_HI, 100.0),
        band(L_IMU3_LO, L_IMU3_HI, 100.0), band(L_IMU4_LO, L_IMU4_HI, 100.0),
        band(L_IMU5_LO, L_IMU5_HI, 100.0), None,
    ]),
    dict(xa="x2", ya="y2", data=[
        series(R_LOW_A, STEP_LINE, 10000.0, R_LOW_B),
        series(R_IMU2_A, STEP_DOT, 10000.0, R_IMU2_B),
        series(R_IMU3_A, STEP_DOT, 10000.0, R_IMU3_B),
        series(R_IMU4_A, STEP_LINE, 10000.0, R_IMU4_B),
        series(R_IMU5_A, STEP_LINE, 10000.0, R_IMU5_B, R_IMU5_EXTRA_T, R_IMU5_EXTRA_V),
        series(R_MED, STEP_DOT, 10000.0),
    ], bands=[
        band(R_LOW_LO, R_LOW_HI, 10000.0), band(R_IMU2_LO, R_IMU2_HI, 10000.0),
        band(R_IMU3_LO, R_IMU3_HI, 10000.0), band(R_IMU4_LO, R_IMU4_HI, 10000.0),
        band(R_IMU5_LO, R_IMU5_HI, 10000.0), None,
    ]),
]

styles = [
    dict(mode="lines", line=dict(color=BLACK, width=1.7)),
    dict(mode="markers", marker=dict(color=GRAY, size=3.2, line=dict(width=0))),
    dict(mode="markers", marker=dict(color=BLUE, size=3.2, line=dict(width=0))),
    dict(mode="lines", line=dict(color=GRAY, width=1.7)),
    dict(mode="lines", line=dict(color=BLUE, width=1.7)),
    dict(mode="markers", marker=dict(color=BLACK, size=3.4, line=dict(width=0))),
]
band_colors = [BLACK, GRAY_CLOUD, BLUE_CLOUD, GRAY, BLUE, None]

fig = go.Figure()
legend_layouts = {}
col_x = [[145, 295], [877, 1027]]
row_top = [48.2, 71.7, 96.9]
li = 0
for p, panel in enumerate(panels):
    for k, (t, v) in enumerate(panel["data"]):
        bd = panel["bands"][k]
        if bd is not None:
            fig.add_trace(go.Scatter(x=bd[0], y=bd[1], xaxis=panel["xa"], yaxis=panel["ya"],
                                     mode="lines", fill="toself", fillcolor=band_colors[k],
                                     line=dict(width=0, color=band_colors[k]),
                                     showlegend=False, hoverinfo="skip"))
        lname = "legend" if li == 0 else f"legend{li + 1}"
        fig.add_trace(go.Scatter(x=t, y=v, name=NAMES[k], xaxis=panel["xa"], yaxis=panel["ya"],
                                 legend=lname, showlegend=True, hoverinfo="skip", **styles[k]))
        col, row = k // 3, k % 3
        legend_layouts[lname] = dict(
            x=col_x[p][col] / W, y=1 - row_top[row] / H, xanchor="left", yanchor="top",
            bgcolor="rgba(0,0,0,0)", borderwidth=0, itemwidth=30,
            font=dict(family=FONT, size=19, color="#000000"),
            itemclick=False, itemdoubleclick=False,
        )
        li += 1


def axis_common():
    return dict(showline=True, linecolor="#4D4D4D", linewidth=1, mirror="ticks",
                ticks="inside", ticklen=5, tickcolor="#4D4D4D", tickwidth=1,
                showgrid=True, gridcolor="#E4E4E4", gridwidth=1, zeroline=False,
                tickfont=dict(family=FONT, size=18.5, color="#262626"))


ydom = [(H - 373) / H, (H - 33) / H]
fig.update_layout(
    width=W, height=H, margin=dict(l=0, r=0, t=0, b=0),
    paper_bgcolor="white", plot_bgcolor="white", showlegend=True,
    xaxis=dict(domain=[48.3 / W, 546 / W], range=[0, 2937], anchor="y",
               tickmode="array", tickvals=XTICKS, ticklabelstandoff=7, **axis_common()),
    yaxis=dict(domain=ydom, range=[0, 7], anchor="x",
               tickmode="array", tickvals=LEFT_YTICKS, ticklabelstandoff=4, **axis_common()),
    xaxis2=dict(domain=[691.8 / W, 1183 / W], range=[0, 2915], anchor="y2",
                tickmode="array", tickvals=XTICKS, ticklabelstandoff=7, **axis_common()),
    yaxis2=dict(domain=ydom, range=[0, 0.25], anchor="x2",
                tickmode="array", tickvals=RIGHT_YTICKS, ticktext=RIGHT_YTICKTEXT,
                ticklabelstandoff=4, **axis_common()),
    **legend_layouts,
)

# legend frames (white boxes behind the legend entries)
for (x0, x1) in [(146, 448), (877, 1178)]:
    fig.add_shape(type="rect", xref="paper", yref="paper",
                  x0=x0 / W, x1=x1 / W, y0=1 - 128 / H, y1=1 - 52 / H,
                  fillcolor="white", line=dict(color="#3A3A3A", width=1), layer="above")


def ann(text, xpx, ypx, size=19, family=FONT, color="#262626", angle=0, xanchor="center", yanchor="middle"):
    fig.add_annotation(text=text, x=xpx / W, y=1 - ypx / H, xref="paper", yref="paper",
                       showarrow=False, textangle=angle, xanchor=xanchor, yanchor=yanchor,
                       font=dict(family=family, size=size, color=color))


ann("<b>Calibrated angular rate error</b>", 297, 22, color="#000000")
ann("<b>Calibrated acceleration error</b>", 939, 22, color="#000000")
ann("Ang. rate error std. dev. [deg/s]", 18.5, 204.5, angle=-90)
ann("Acc. error std. dev. [m/s<sup>2</sup>]", 635, 204.5, angle=-90)
ann("Time [s]", 298, 418)
ann("Time [s]", 940, 417)
ann("(a)", 287, 444, size=28, family="Liberation Serif", color="#000000")
ann("(b)", 929.5, 444, size=28, family="Liberation Serif", color="#000000")
ann("\u00d710", 51, 24, size=17.5, xanchor="left")
ann("-3", 81, 16, size=16, xanchor="left")

fig.write_html("out.html")
